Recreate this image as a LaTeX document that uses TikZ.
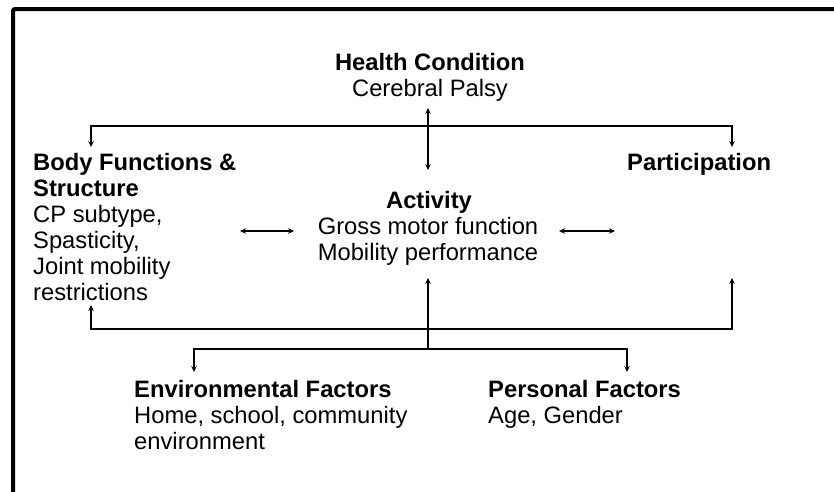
\documentclass[tikz,border=0pt]{standalone}
\usepackage{fontspec}
\setmainfont{Liberation Sans}
\usetikzlibrary{arrows.meta}
\begin{document}
\begin{tikzpicture}[x=1pt,y=-1pt,
  tip/.tip={Stealth[length=6pt,width=5.5pt]},
  conn/.style={line width=1.1pt, -tip},
  dconn/.style={line width=1.1pt, tip-tip},
  plain/.style={line width=1.1pt},
  head/.style={font=\fontsize{23.75}{26}\selectfont\bfseries, inner sep=0pt},
  body/.style={font=\fontsize{23.75}{26}\selectfont, inner sep=0pt}]
\useasboundingbox (0,0) rectangle (834,491);
\clip (0,0) rectangle (834,491);
\draw[line width=4pt, rounded corners=2pt] (13,520) -- (13,9) -- (860,9);

% texts
\node[head, anchor=base] (hc) at (430,70) {Health Condition};
\node[body, anchor=base] (hc1) at (430,96) {Cerebral Palsy};

\node[head, anchor=base west] (bf) at (33,170) {Body Functions \&};
\node[head, anchor=base west] (bf2) at (33,196) {Structure};
\node[body, anchor=base west] (bf3) at (33,222) {CP subtype,};
\node[body, anchor=base west] (bf4) at (33,248) {Spasticity,};
\node[body, anchor=base west] (bf5) at (33,274) {Joint mobility};
\node[body, anchor=base west] (bf6) at (33,300) {restrictions};

\node[head, anchor=base] (act) at (429,208) {Activity};
\node[body, anchor=base] (act1) at (428,234) {Gross motor function};
\node[body, anchor=base] (act2) at (428,260) {Mobility performance};

\node[head, anchor=base west] (par) at (627,170) {Participation};

\node[head, anchor=base west] (env) at (134,397) {Environmental Factors};
\node[body, anchor=base west] (env1) at (134,423) {Home, school, community};
\node[body, anchor=base west] (env2) at (134,449) {environment};

\node[head, anchor=base west] (pf) at (488,397) {Personal Factors};
\node[body, anchor=base west] (pf1) at (488,423) {Age, Gender};

% connector points
\coordinate (hcOut) at (428,108);
\coordinate (actTop) at (428,170);
\coordinate (busTL) at (91,126);
\coordinate (busTR) at (732,126);
\coordinate (bfIn) at (91,147);
\coordinate (parIn) at (732,147);
\coordinate (busBL) at (91,329);
\coordinate (busBM) at (428,329);
\coordinate (busBR) at (732,329);
\coordinate (bfUp) at (91,305);
\coordinate (actUp) at (428,278);
\coordinate (parUp) at (732,278);
\coordinate (envBus) at (428,349);
\coordinate (envL) at (194,349);
\coordinate (envR) at (627,349);
\coordinate (envIn) at (194,372);
\coordinate (pfIn) at (627,372);
\coordinate (la) at (240,231);
\coordinate (lb) at (294,231);
\coordinate (ra) at (559,231);
\coordinate (rb) at (615,231);

\draw[dconn] (hcOut) -- (actTop);
\draw[dconn] (bfIn) -- (busTL) -- (busTR) -- (parIn);
\draw[dconn] (bfUp) -- (busBL) -- (busBR) -- (parUp);
\draw[conn] (busBM) -- (actUp);
\draw[plain] (busBM) -- (envBus);
\draw[dconn] (envIn) -- (envL) -- (envR) -- (pfIn);
\draw[dconn] (la) -- (lb);
\draw[dconn] (ra) -- (rb);
\end{tikzpicture}
\end{document}
